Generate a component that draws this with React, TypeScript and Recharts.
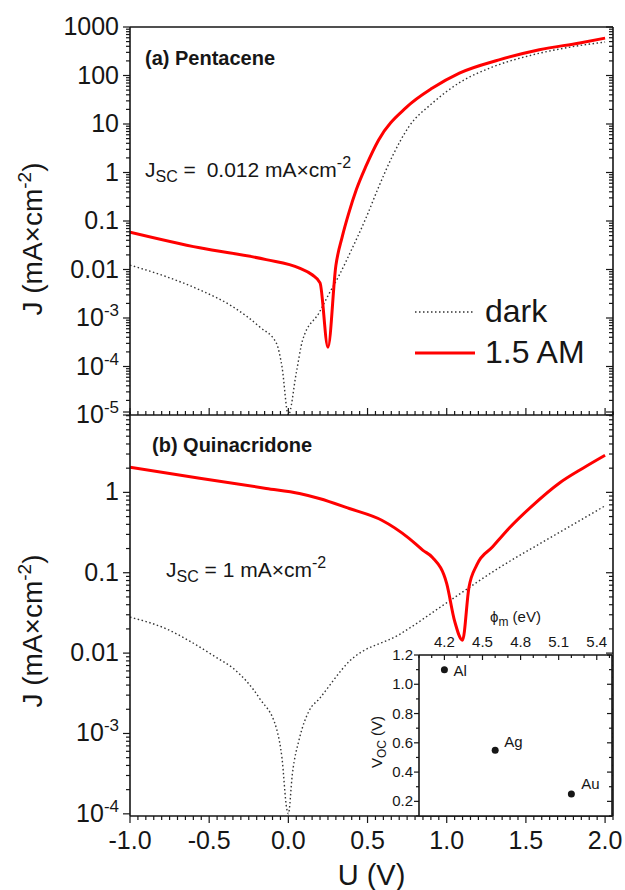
import React from "react";
import {
  LineChart,
  Line,
  XAxis,
  YAxis,
  ScatterChart,
  Scatter,
  Legend,
  CartesianGrid,
} from "recharts";

const FONT = "'Liberation Sans', Arial, sans-serif";
const INK = "#161616";
const RED = "#ff0000";

// (a) pentacene, dark and under 1.5 AM light
const pentaceneDarkU = [-1.0, -0.77, -0.56, -0.35, -0.18, -0.075, -0.04, 0.0, 0.05, 0.09, 0.195, 0.26, 0.32, 0.4, 0.49, 0.57, 0.655, 0.76, 0.91, 1.08, 1.29, 1.54, 1.79, 2.0];
const pentaceneDarkJ = [0.0123, 0.0071, 0.0038, 0.0017, 0.00065, 0.0003, 0.000098, 0.00001, 0.000074, 0.00035, 0.0013, 0.0033, 0.0075, 0.026, 0.115, 0.5, 2.1, 8.7, 27, 71, 150, 265, 390, 490];
const pentaceneLightU = [-1.0, -0.56, -0.14, 0.07, 0.15, 0.2, 0.25, 0.3, 0.34, 0.38, 0.43, 0.49, 0.57, 0.745, 0.91, 1.08, 1.33, 1.585, 1.84, 2.0];
const pentaceneLightJ = [0.059, 0.028, 0.016, 0.0107, 0.0078, 0.0053, 0.00025, 0.012, 0.047, 0.14, 0.45, 1.35, 4.7, 22, 55, 112, 210, 340, 470, 590];

// (b) quinacridone
const quinDarkU = [-1.0, -0.77, -0.62, -0.45, -0.35, -0.18, -0.075, -0.04, -0.01, 0.0, 0.025, 0.07, 0.13, 0.195, 0.385, 0.7, 1.02, 1.33, 1.65, 2.0];
const quinDarkJ = [0.028, 0.02, 0.014, 0.0087, 0.0065, 0.0027, 0.00115, 0.00049, 0.000115, 0.0001, 0.00031, 0.00087, 0.0019, 0.0027, 0.0079, 0.017, 0.045, 0.115, 0.27, 0.68];
const quinLightU = [-1.0, -0.56, -0.14, 0.07, 0.195, 0.385, 0.59, 0.76, 0.85, 0.91, 1.0, 1.05, 1.1, 1.14, 1.19, 1.29, 1.395, 1.54, 1.71, 1.86, 2.0];
const quinLightJ = [2.05, 1.5, 1.12, 0.97, 0.84, 0.63, 0.45, 0.27, 0.19, 0.155, 0.073, 0.025, 0.0145, 0.065, 0.125, 0.21, 0.36, 0.68, 1.3, 2.0, 2.9];

// inset: Voc vs metal work function
const metals = ["Al", "Ag", "Au"];
const workFunction = [4.2, 4.6, 5.2];
const openCircuitVoltage = [1.1, 0.55, 0.25];

// tick labels
const voltageLabels = [-1, -0.5, 0, 0.5, 1, 1.5, 2];
const phiLabels = [4.2, 4.5, 4.8, 5.1, 5.4];
const vocLabels = [0.2, 0.4, 0.6, 0.8, 1.0, 1.2];
const legendOrder = ["dark", "1.5 AM"];

const toPoints = (u: number[], j: number[]) => u.map((v, i) => ({ u: v, j: j[i] }));
const pentaceneDark = toPoints(pentaceneDarkU, pentaceneDarkJ);
const pentaceneLight = toPoints(pentaceneLightU, pentaceneLightJ);
const quinDark = toPoints(quinDarkU, quinDarkJ);
const quinLight = toPoints(quinLightU, quinLightJ);
const metalPoints = metals.map((m, i) => ({ metal: m, phi: workFunction[i], voc: openCircuitVoltage[i] }));

const steps = (from: number, to: number, step: number) => {
  const out: number[] = [];
  const n = Math.round((to - from) / step);
  for (let i = 0; i <= n; i++) out.push(Math.round((from + i * step) * 1000) / 1000);
  return out;
};
const logTicks = (lo: number, hi: number) => {
  const out: number[] = [];
  for (let e = lo; e < hi; e++) for (let m = 1; m < 10; m++) out.push(m * Math.pow(10, e));
  out.push(Math.pow(10, hi));
  return out;
};

const voltageTicks = steps(-1, 2.05, 0.05);
const phiTicks = steps(4.0, 5.5, 0.1);
const vocTicks = steps(0.1, 1.2, 0.1);
const pentaceneTicks = logTicks(-5, 3);
const quinTicks = logTicks(-4, 1);

const near = (list: number[]) => (v: number) => list.some((l) => Math.abs(l - v) < 1e-6);
const isDecade = (v: number) => Math.abs(Math.log10(v) - Math.round(Math.log10(v))) < 1e-6;

type Dir = "left" | "right" | "up" | "down";

const tickMarks =
  (dir: Dir, isMajor: (v: number) => boolean, majorLen: number, minorLen: number, label?: (v: number, x: number, y: number) => React.ReactNode) =>
  (props: any) => {
    const { x, y, payload } = props;
    const v = payload.value as number;
    const major = isMajor(v);
    const len = major ? majorLen : minorLen;
    const dx = dir === "left" ? -len : dir === "right" ? len : 0;
    const dy = dir === "up" ? -len : dir === "down" ? len : 0;
    return (
      <g>
        <line x1={x} y1={y} x2={x + dx} y2={y + dy} stroke={INK} strokeWidth={1.2} />
        {major && label ? label(v, x, y) : null}
      </g>
    );
  };

const logLabel = (hideAbove: number) => (v: number, x: number, y: number) => {
  const e = Math.round(Math.log10(v));
  if (e > hideAbove) return null;
  const common = { x: x - 11, y: y + 8, textAnchor: "end" as const, fontSize: 25, fill: INK, fontFamily: FONT };
  if (e >= -2) return <text {...common}>{e === -1 ? "0.1" : e === -2 ? "0.01" : String(Math.pow(10, e))}</text>;
  return (
    <text {...common}>
      10<tspan dy={-10} fontSize={17}>{String(e)}</tspan>
    </text>
  );
};

const voltageLabel = (v: number, x: number, y: number) => (
  <text x={x} y={y + 33} textAnchor="middle" fontSize={25} fill={INK} fontFamily={FONT}>
    {v.toFixed(1)}
  </text>
);
const phiLabel = (v: number, x: number, y: number) => (
  <text x={x} y={y - 8} textAnchor="middle" fontSize={15} fill={INK} fontFamily={FONT}>
    {v.toFixed(1)}
  </text>
);
const vocLabel = (v: number, x: number, y: number) => (
  <text x={x - 6} y={y + 5} textAnchor="end" fontSize={15} fill={INK} fontFamily={FONT}>
    {v.toFixed(1)}
  </text>
);

const axisStyle = { stroke: INK, strokeWidth: 1.6 };
const bare = { axisLine: axisStyle, tickLine: false, tickSize: 0, tickMargin: 0, interval: 0 as const, allowDataOverflow: true };

function JTitle({ cy }: any) {
  const cx = 42;
  return (
    <text x={cx} y={cy} transform={`rotate(-90 ${cx} ${cy})`} textAnchor="middle" fontFamily={FONT} fontSize={28} fill={INK}>
      J (mA×cm<tspan dy={-11} fontSize={19}>-2</tspan>
      <tspan dy={11}>)</tspan>
    </text>
  );
}

function UTitle({ viewBox }: any) {
  const cx = viewBox ? viewBox.x + viewBox.width / 2 : 371;
  return (
    <text x={cx} y={485} textAnchor="middle" fontFamily={FONT} fontSize={29} fill={INK}>
      U (V)
    </text>
  );
}

function VocTitle() {
  const cx = 22;
  const cy = 142;
  return (
    <text x={cx} y={cy} transform={`rotate(-90 ${cx} ${cy})`} textAnchor="middle" fontFamily={FONT} fontSize={15} fill={INK}>
      V<tspan dy={4} fontSize={12}>OC</tspan>
      <tspan dy={-4}> (V)</tspan>
    </text>
  );
}

function PhiTitle() {
  return (
    <text x={130} y={22} fontFamily={FONT} fontSize={15} fill={INK}>
      ϕ<tspan dy={4} fontSize={12}>m</tspan>
      <tspan dy={-4}> (eV)</tspan>
    </text>
  );
}

function JscText({ x, y, value }: { x: number; y: number; value: string }) {
  return (
    <text x={x} y={y} fontFamily={FONT} fontSize={21} fill={INK}>
      J<tspan dy={5} fontSize={16}>SC</tspan>
      <tspan dy={-5}> = </tspan>
      <tspan dx={value.length > 1 ? 5 : 0}>{value} mA×cm</tspan>
      <tspan dy={-9} fontSize={16}>-2</tspan>
    </text>
  );
}

function LegendBox({ payload }: any) {
  const items = [...(payload ?? [])].sort((a: any, b: any) => legendOrder.indexOf(a.value) - legendOrder.indexOf(b.value));
  return (
    <svg width={200} height={90}>
      {items.map((item: any, i: number) => {
        const y = 24 + i * 41;
        const dotted = item.value === "dark";
        return (
          <g key={item.value}>
            <line x1={7} x2={67} y1={y} y2={y} stroke={item.color} strokeWidth={dotted ? 1.4 : 3} strokeDasharray={dotted ? "1.5 2.5" : undefined} />
            <text x={77} y={y + 10} fontSize={32} fontFamily={FONT} fill={INK}>
              {item.value}
            </text>
          </g>
        );
      })}
    </svg>
  );
}

function MetalDot(props: any) {
  const { cx, cy, payload } = props;
  const offsets: Record<string, [number, number]> = { Al: [9, 6], Ag: [9, -3], Au: [10, -5] };
  const [dx, dy] = offsets[payload.metal] ?? [9, 0];
  return (
    <g>
      <circle cx={cx} cy={cy} r={3.5} fill={INK} />
      <text x={cx + dx} y={cy + dy} fontSize={15} fontFamily={FONT} fill={INK}>
        {payload.metal}
      </text>
    </g>
  );
}

const isVoltageMajor = near(voltageLabels);

export default function App() {
  return (
    <div style={{ position: "absolute", left: 0, top: 0, width: 625, height: 890, background: "#fff", fontFamily: FONT }}>
      {/* (b) quinacridone */}
      <div style={{ position: "absolute", left: 0, top: 400 }}>
        <LineChart width={625} height={490} margin={{ top: 12, right: 11, bottom: 0, left: 0 }}>
          <XAxis xAxisId="u" dataKey="u" type="number" domain={[-1, 2.05]} ticks={voltageTicks} height={74} {...bare} tick={tickMarks("down", isVoltageMajor, 7, 4, voltageLabel)} label={<UTitle />} />
          <YAxis yAxisId="j" type="number" scale="log" domain={[9.4e-5, 10]} ticks={quinTicks} width={130} {...bare} tick={tickMarks("left", isDecade, 7, 4, logLabel(0))} label={<JTitle cy={231} />} />
          <YAxis yAxisId="jRight" orientation="right" type="number" scale="log" domain={[9.4e-5, 10]} ticks={quinTicks} width={1} {...bare} tick={tickMarks("left", isDecade, 7, 4)} />
          <Line xAxisId="u" yAxisId="j" data={quinDark} dataKey="j" name="dark" type="monotone" stroke="#333" strokeWidth={1.4} strokeDasharray="1.5 2.5" dot={false} isAnimationActive={false} />
          <Line xAxisId="u" yAxisId="j" data={quinLight} dataKey="j" name="1.5 AM" type="monotone" stroke={RED} strokeWidth={3} dot={false} isAnimationActive={false} />
          <text x={152} y={52} fontFamily={FONT} fontSize={20} fontWeight="bold" fill={INK}>
            (b) Quinacridone
          </text>
          <JscText x={166} y={177} value="1" />
        </LineChart>
      </div>

      {/* (a) pentacene */}
      <div style={{ position: "absolute", left: 0, top: 0 }}>
        <LineChart width={625} height={432} margin={{ top: 26, right: 11, bottom: 0, left: 0 }}>
          <XAxis xAxisId="u" dataKey="u" type="number" domain={[-1, 2.05]} ticks={voltageTicks} height={17} {...bare} tick={tickMarks("up", isVoltageMajor, 7, 4)} />
          <XAxis xAxisId="uTop" orientation="top" type="number" domain={[-1, 2.05]} ticks={voltageTicks} height={1} {...bare} tick={tickMarks("down", isVoltageMajor, 7, 4)} />
          <YAxis yAxisId="j" type="number" scale="log" domain={[1e-5, 1000]} ticks={pentaceneTicks} width={130} {...bare} tick={tickMarks("left", isDecade, 7, 4, logLabel(3))} label={<JTitle cy={239} />} />
          <YAxis yAxisId="jRight" orientation="right" type="number" scale="log" domain={[1e-5, 1000]} ticks={pentaceneTicks} width={1} {...bare} tick={tickMarks("left", isDecade, 7, 4)} />
          <Line xAxisId="u" yAxisId="j" data={pentaceneDark} dataKey="j" name="dark" type="monotone" stroke="#333" strokeWidth={1.4} strokeDasharray="1.5 2.5" dot={false} isAnimationActive={false} />
          <Line xAxisId="u" yAxisId="j" data={pentaceneLight} dataKey="j" name="1.5 AM" type="monotone" stroke={RED} strokeWidth={3} dot={false} isAnimationActive={false} />
          <Legend verticalAlign="middle" align="center" layout="horizontal" wrapperStyle={{ left: 408, top: 288, width: 200, height: 90 }} content={<LegendBox />} />
          <text x={145} y={65} fontFamily={FONT} fontSize={20} fontWeight="bold" fill={INK}>
            (a) Pentacene
          </text>
          <JscText x={145} y={177} value="0.012" />
        </LineChart>
      </div>

      {/* inset */}
      <div style={{ position: "absolute", left: 360, top: 600 }}>
        <ScatterChart width={265} height={217} margin={{ top: 54, right: 12, bottom: 0, left: 0 }}>
          <CartesianGrid xAxisId="phi" yAxisId="voc" fill="#fff" horizontal={false} vertical={false} />
          <XAxis xAxisId="phi" orientation="top" dataKey="phi" type="number" domain={[4.0, 5.52]} ticks={phiTicks} height={1} {...bare} tick={tickMarks("down", near(phiLabels), 5, 3, phiLabel)} label={<PhiTitle />} />
          <XAxis xAxisId="phiBottom" type="number" domain={[4.0, 5.52]} ticks={phiTicks} height={1} {...bare} tick={tickMarks("up", near(phiLabels), 5, 3)} />
          <YAxis yAxisId="voc" dataKey="voc" type="number" domain={[0.1, 1.2]} ticks={vocTicks} width={59} {...bare} tick={tickMarks("left", near(vocLabels), 5, 3, vocLabel)} label={<VocTitle />} />
          <YAxis yAxisId="vocRight" orientation="right" type="number" domain={[0.1, 1.2]} ticks={vocTicks} width={1} {...bare} tick={tickMarks("left", near(vocLabels), 5, 3)} />
          <Scatter xAxisId="phi" yAxisId="voc" data={metalPoints} shape={<MetalDot />} isAnimationActive={false} />
        </ScatterChart>
      </div>
    </div>
  );
}
